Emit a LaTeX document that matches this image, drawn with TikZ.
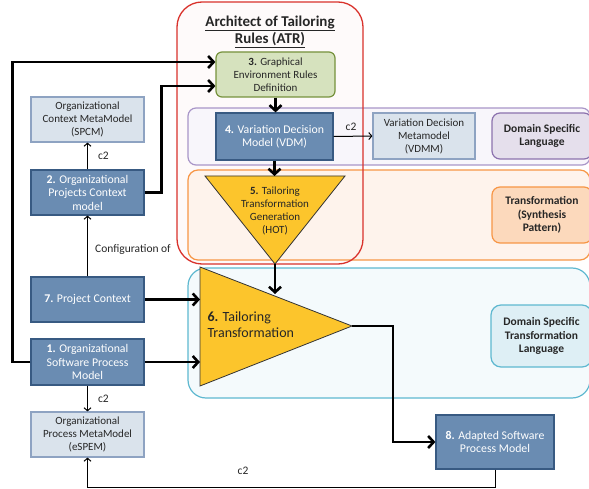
\documentclass[tikz,border=0pt]{standalone}
\usepackage{fontspec}
\setmainfont{Carlito}
\usetikzlibrary{arrows.meta}
\definecolor{dkfill}{HTML}{6A8CB2}
\definecolor{dkbord}{HTML}{385A82}
\definecolor{ltfill}{HTML}{DAE3EC}
\definecolor{ltbord}{HTML}{8EA3C2}
\definecolor{grfill}{HTML}{D6E2BE}
\definecolor{grbord}{HTML}{76923C}
\definecolor{yel}{HTML}{FCC52C}
\definecolor{redb}{HTML}{D9312B}
\definecolor{redf}{HTML}{FEFAFA}
\definecolor{purb}{HTML}{A996C8}
\definecolor{purf}{HTML}{F8F6FB}
\definecolor{dslf}{HTML}{E5DFEC}
\definecolor{dslb}{HTML}{8C72AE}
\definecolor{orb}{HTML}{F79646}
\definecolor{orf}{HTML}{FEF3EC}
\definecolor{synf}{HTML}{FCD9BC}
\definecolor{cyb}{HTML}{5EB8D0}
\definecolor{cyf}{HTML}{F4FAFC}
\definecolor{dstf}{HTML}{DEEFF5}
\definecolor{txt}{HTML}{262626}
\tikzset{
  darkbox/.style={draw=dkbord, fill=dkfill, line width=1.2pt, text=white, align=center,
    font=\fontsize{11.8}{13.5}\selectfont, inner sep=1pt},
  lightbox/.style={draw=ltbord, fill=ltfill, line width=1.2pt, text=txt, align=center,
    font=\fontsize{11}{13}\selectfont, inner sep=1pt},
  labelbox/.style={rounded corners=8pt, line width=1.2pt, text=txt, align=center,
    font=\bfseries\fontsize{11.5}{13.5}\selectfont, inner sep=1pt},
  band/.style={rounded corners=#1, line width=1.2pt},
  bigarrow/.style={line width=2.6pt, -{Straight Barb[length=5.5pt,width=12pt]}},
  smallarrow/.style={line width=1pt, -{Straight Barb[length=3pt,width=7pt]}},
  lbl/.style={font=\fontsize{11.5}{13}\selectfont, text=txt, inner sep=0pt},
}
\begin{document}
\begin{tikzpicture}[x=1pt,y=-1pt]
\useasboundingbox (0,0) rectangle (589,489);
\clip (0,0) rectangle (589,489);
% red ATR box fill
\fill[redf, rounded corners=25pt] (177,2) rectangle (363,264);
% bands
\draw[band=8pt, draw=purb, fill=purf] (188,108) rectangle (590,165);
\draw[band=10pt, draw=orb, fill=orf] (188,170) rectangle (590,260);
\draw[band=18pt, draw=cyb, fill=cyf] (188,268) rectangle (590,398);
% red ATR border
\draw[redb, line width=1.3pt, rounded corners=25pt] (177,2) rectangle (363,264);
\node[font=\bfseries\fontsize{15}{17.5}\selectfont, align=center, text=txt] (title) at (270,32)
  {\underline{Architect of Tailoring}\\\underline{Rules (ATR)}};
% right-side label boxes
\node[labelbox, draw=dslb, fill=dslf, minimum width=100pt, minimum height=46pt] (dsl) at (542,136)
  {Domain Specific\\Language};
\node[labelbox, draw=orb, fill=synf, minimum width=100pt, minimum height=56pt] (syn) at (542,215)
  {Transformation\\(Synthesis\\Pattern)};
\node[labelbox, rounded corners=10pt, draw=cyb, fill=dstf, minimum width=101pt, minimum height=62pt] (dstl) at (541.5,336)
  {Domain Specific\\Transformation\\Language};
% ATR boxes
\node[draw=grbord, fill=grfill, line width=1.2pt, rounded corners=6pt, text=txt, align=center,
  font=\fontsize{11}{13}\selectfont, inner sep=1pt, minimum width=119pt, minimum height=45pt] (g3) at (275.5,74.5)
  {\textbf{3.} Graphical\\Environment Rules\\Definition};
\node[darkbox, minimum width=117pt, minimum height=47pt] (b4) at (274.5,136.5)
  {\textbf{4.} Variation Decision\\Model (VDM)};
\node[lightbox, minimum width=102pt, minimum height=46pt] (vdmm) at (424,136)
  {Variation Decision\\Metamodel\\(VDMM)};
% triangle 5
\coordinate (t5a) at (205,176);
\coordinate (t5b) at (345,176);
\coordinate (t5apex) at (275,264);
\draw[fill=yel, draw=black!80, line width=0.8pt] (t5a) -- (t5b) -- (t5apex) -- cycle;
\node[font=\fontsize{11}{12.8}\selectfont, align=center, text=txt] (t5txt) at (275,211)
  {\textbf{5.} Tailoring\\Transformation\\Generation\\(HOT)};
\coordinate (t5top) at (275,176);
% triangle 6
\coordinate (t6a) at (200,267);
\coordinate (t6b) at (200,386);
\coordinate (t6apex) at (352,326);
\draw[fill=yel, draw=black!80, line width=0.8pt] (t6a) -- (t6apex) -- (t6b) -- cycle;
\node[font=\fontsize{14}{16}\selectfont, align=left, anchor=west, text=txt] (t6txt) at (204,325)
  {\textbf{6.} Tailoring\\Transformation};
\coordinate (t6in) at (275,294);
\coordinate (t6left) at (200,330);
% left column
\node[lightbox, minimum width=113pt, minimum height=45pt] (spcm) at (87.5,119.5)
  {Organizational\\Context MetaModel\\(SPCM)};
\node[darkbox, minimum width=113pt, minimum height=45pt] (b2) at (87.5,192.5)
  {\textbf{2.} Organizational\\Projects Context\\model};
\node[darkbox, minimum width=113pt, minimum height=45pt] (b7) at (87.5,299.5)
  {\textbf{7.} Project Context};
\node[darkbox, minimum width=113pt, minimum height=46pt] (b1) at (87.5,362)
  {\textbf{1.} Organizational\\Software Process\\Model};
\node[lightbox, minimum width=113pt, minimum height=45pt] (esp) at (87.5,434.5)
  {Organizational\\Process MetaModel\\(eSPEM)};
\node[darkbox, minimum width=118pt, minimum height=54pt] (b8) at (495,442)
  {\textbf{8.} Adapted Software\\Process Model};
% connectors
\draw[bigarrow] (b1.west) -- ++(-18,0) |- ([yshift=12.5pt]g3.west);
\draw[bigarrow] (b2.east) -- ++(17,0) |- ([yshift=-11.5pt]g3.west);
\draw[smallarrow] (b2.north) -- (spcm.south) node[lbl, pos=0.5, right=10pt] (c2a) {c2};
\draw[smallarrow] (b7.north) -- (b2.south);
\node[lbl, anchor=center] (conf) at (133,250) {Configuration of};
\draw[bigarrow] (b7.east) -- (b7.east -| t6left);
\draw[bigarrow] (b1.east) -- (b1.east -| t6left);
\draw[smallarrow] (b1.south) -- (esp.north) node[lbl, pos=0.5, right=10pt] (c2b) {c2};
\draw[bigarrow] (g3.south) -- (b4.north -| g3.south);
\draw[bigarrow] (b4.south) -- (b4.south |- t5top);
\draw[bigarrow] (t5apex) -- (t6in);
\draw[smallarrow] (b4.east) -- (vdmm.west) node[lbl, pos=0.45, above=5pt] (c2c) {c2};
\draw[bigarrow] (t6apex) -- ++(41,0) |- (b8.west);
\draw[smallarrow] (b8.south) -- ++(0,18) -| (esp.south);
\node[lbl] (c2d) at (243,471) {c2};
\end{tikzpicture}
\end{document}
